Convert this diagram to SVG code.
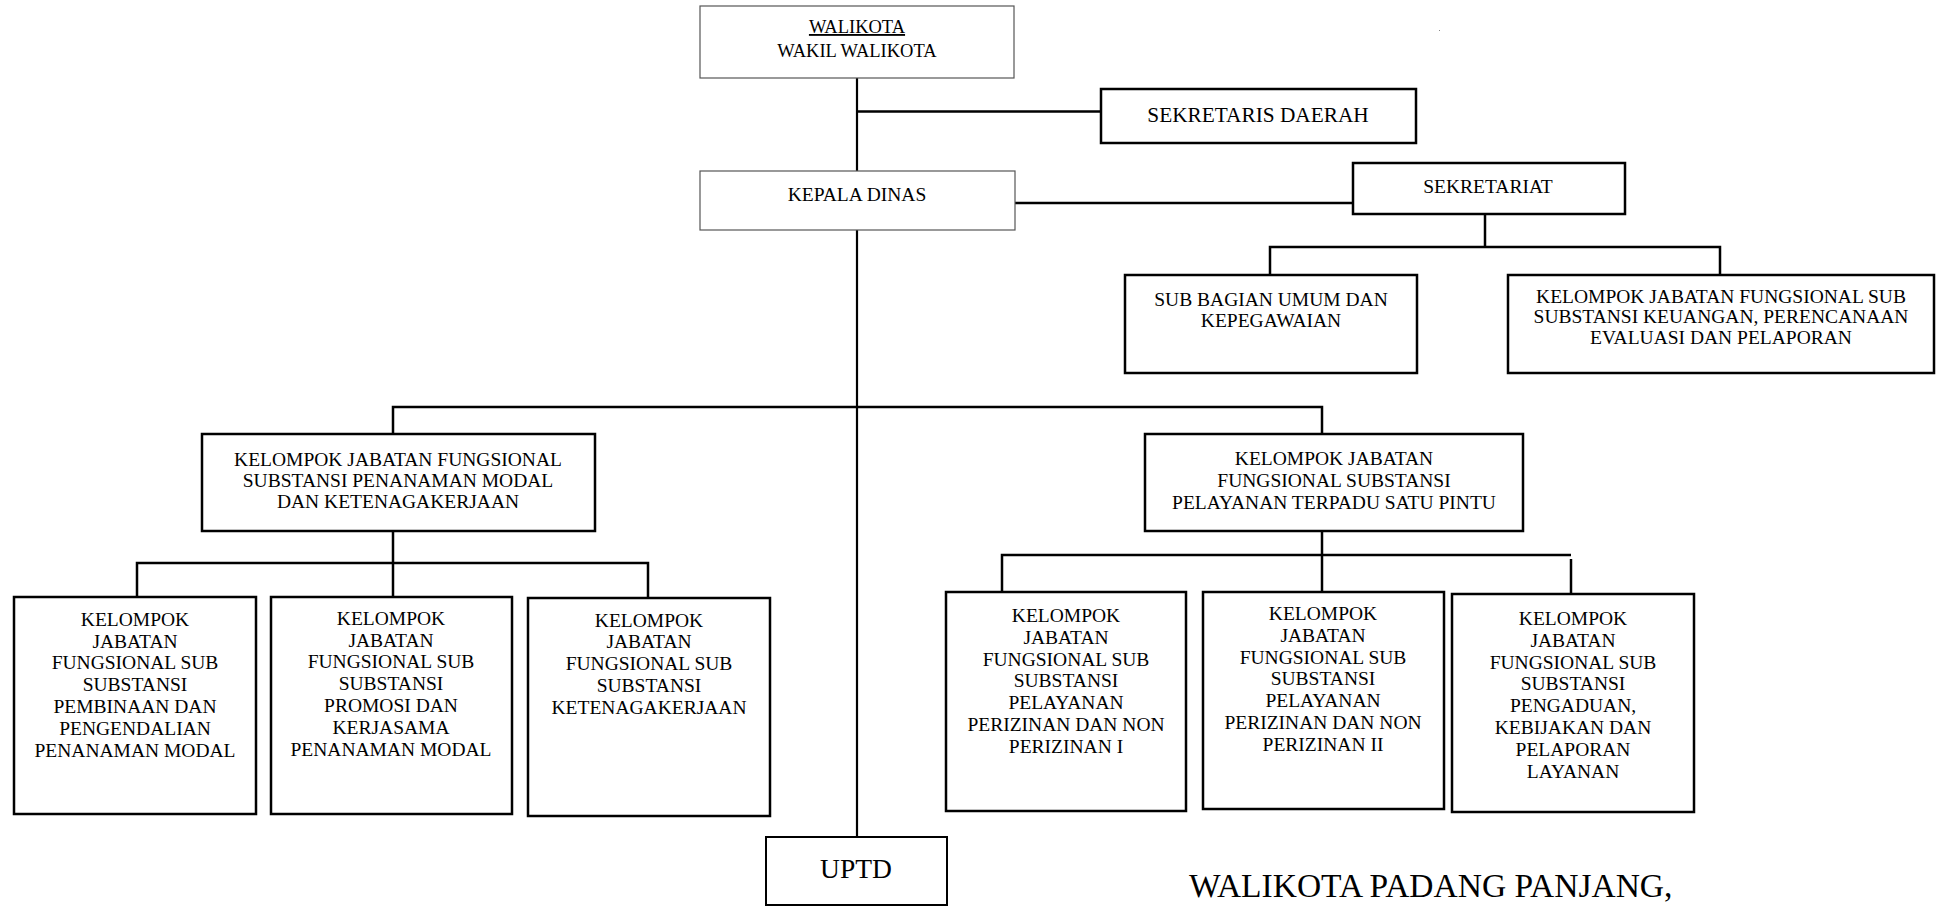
<svg xmlns="http://www.w3.org/2000/svg" width="1936" height="906" viewBox="0 0 1936 906">
<style>
  .thin { fill: #ffffff; stroke: #555555; stroke-width: 1.2; }
  .box { fill: #ffffff; stroke: #000000; stroke-width: 2.5; }
  .lbl { font-family: "Liberation Serif", "Times New Roman", serif; font-size: 19.5px; fill: #000000; text-anchor: middle; }
  .conn { fill: none; stroke: #000000; stroke-width: 2.5; }
</style>
<rect x="0" y="0" width="1936" height="906" fill="#ffffff"/>

<g id="connectors">
  <line class="conn" x1="857" y1="78" x2="857" y2="837" style="stroke-width:2.2"/>
  <line class="conn" x1="857" y1="111.5" x2="1101" y2="111.5"/>
  <line class="conn" x1="1015" y1="203" x2="1353" y2="203"/>
  <line class="conn" x1="1485" y1="214" x2="1485" y2="247"/>
  <polyline class="conn" points="1270,275 1270,247 1720,247 1720,275"/>
  <polyline class="conn" points="393,434 393,407 1322,407 1322,434"/>
  <line class="conn" x1="393" y1="531" x2="393" y2="597"/>
  <polyline class="conn" points="137,597 137,563 648,563 648,598"/>
  <line class="conn" x1="1322" y1="531" x2="1322" y2="592"/>
  <polyline class="conn" points="1002,592 1002,555 1571,555"/>
  <line class="conn" x1="1571" y1="559" x2="1571" y2="594"/>
</g>

<g id="walikota">
  <rect class="thin" x="700" y="6" width="314" height="72"/>
  <text class="lbl" x="857" y="33" style="font-size:18.5px"><tspan text-decoration="underline">WALIKOTA</tspan></text>
  <text class="lbl" x="857" y="57" style="font-size:18.5px">WAKIL WALIKOTA</text>
</g>

<g id="sekretaris-daerah">
  <rect class="box" x="1101" y="89" width="315" height="54"/>
  <text class="lbl" x="1258" y="122" style="font-size:21.3px">SEKRETARIS DAERAH</text>
</g>

<g id="kepala-dinas">
  <rect class="thin" x="700" y="171" width="315" height="59"/>
  <text class="lbl" x="857" y="201">KEPALA DINAS</text>
</g>

<g id="sekretariat">
  <rect class="box" x="1353" y="163" width="272" height="51"/>
  <text class="lbl" x="1488" y="193">SEKRETARIAT</text>
</g>

<g id="sub-bagian-umum">
  <rect class="box" x="1125" y="275" width="292" height="98"/>
  <text class="lbl" x="1271" y="306">SUB BAGIAN UMUM DAN</text>
  <text class="lbl" x="1271" y="327">KEPEGAWAIAN</text>
</g>

<g id="kjf-keuangan">
  <rect class="box" x="1508" y="275" width="426" height="98"/>
  <text class="lbl" x="1721" y="303">KELOMPOK JABATAN FUNGSIONAL SUB</text>
  <text class="lbl" x="1721" y="323">SUBSTANSI KEUANGAN, PERENCANAAN</text>
  <text class="lbl" x="1721" y="344">EVALUASI DAN PELAPORAN</text>
</g>

<g id="kjf-penanaman-modal">
  <rect class="box" x="202" y="434" width="393" height="97"/>
  <text class="lbl" x="398" y="466">KELOMPOK JABATAN FUNGSIONAL</text>
  <text class="lbl" x="398" y="487">SUBSTANSI PENANAMAN MODAL</text>
  <text class="lbl" x="398" y="508">DAN KETENAGAKERJAAN</text>
</g>

<g id="kjf-ptsp">
  <rect class="box" x="1145" y="434" width="378" height="97"/>
  <text class="lbl" x="1334" y="465">KELOMPOK JABATAN</text>
  <text class="lbl" x="1334" y="487">FUNGSIONAL SUBSTANSI</text>
  <text class="lbl" x="1334" y="509">PELAYANAN TERPADU SATU PINTU</text>
</g>

<g id="kjf-pembinaan">
  <rect class="box" x="14" y="597" width="242" height="217"/>
  <text class="lbl" x="135" y="626">KELOMPOK</text>
  <text class="lbl" x="135" y="648">JABATAN</text>
  <text class="lbl" x="135" y="669">FUNGSIONAL SUB</text>
  <text class="lbl" x="135" y="691">SUBSTANSI</text>
  <text class="lbl" x="135" y="713">PEMBINAAN DAN</text>
  <text class="lbl" x="135" y="735">PENGENDALIAN</text>
  <text class="lbl" x="135" y="757">PENANAMAN MODAL</text>
</g>

<g id="kjf-promosi">
  <rect class="box" x="271" y="597" width="241" height="217"/>
  <text class="lbl" x="391" y="625">KELOMPOK</text>
  <text class="lbl" x="391" y="647">JABATAN</text>
  <text class="lbl" x="391" y="668">FUNGSIONAL SUB</text>
  <text class="lbl" x="391" y="690">SUBSTANSI</text>
  <text class="lbl" x="391" y="712">PROMOSI DAN</text>
  <text class="lbl" x="391" y="734">KERJASAMA</text>
  <text class="lbl" x="391" y="756">PENANAMAN MODAL</text>
</g>

<g id="kjf-ketenagakerjaan">
  <rect class="box" x="528" y="598" width="242" height="218"/>
  <text class="lbl" x="649" y="627">KELOMPOK</text>
  <text class="lbl" x="649" y="648">JABATAN</text>
  <text class="lbl" x="649" y="670">FUNGSIONAL SUB</text>
  <text class="lbl" x="649" y="692">SUBSTANSI</text>
  <text class="lbl" x="649" y="714">KETENAGAKERJAAN</text>
</g>

<g id="kjf-perizinan-1">
  <rect class="box" x="946" y="592" width="240" height="219"/>
  <text class="lbl" x="1066" y="622">KELOMPOK</text>
  <text class="lbl" x="1066" y="644">JABATAN</text>
  <text class="lbl" x="1066" y="666">FUNGSIONAL SUB</text>
  <text class="lbl" x="1066" y="687">SUBSTANSI</text>
  <text class="lbl" x="1066" y="709">PELAYANAN</text>
  <text class="lbl" x="1066" y="731">PERIZINAN DAN NON</text>
  <text class="lbl" x="1066" y="753">PERIZINAN I</text>
</g>

<g id="kjf-perizinan-2">
  <rect class="box" x="1203" y="592" width="241" height="217"/>
  <text class="lbl" x="1323" y="620">KELOMPOK</text>
  <text class="lbl" x="1323" y="642">JABATAN</text>
  <text class="lbl" x="1323" y="664">FUNGSIONAL SUB</text>
  <text class="lbl" x="1323" y="685">SUBSTANSI</text>
  <text class="lbl" x="1323" y="707">PELAYANAN</text>
  <text class="lbl" x="1323" y="729">PERIZINAN DAN NON</text>
  <text class="lbl" x="1323" y="751">PERIZINAN II</text>
</g>

<g id="kjf-pengaduan">
  <rect class="box" x="1452" y="594" width="242" height="218"/>
  <text class="lbl" x="1573" y="625">KELOMPOK</text>
  <text class="lbl" x="1573" y="647">JABATAN</text>
  <text class="lbl" x="1573" y="669">FUNGSIONAL SUB</text>
  <text class="lbl" x="1573" y="690">SUBSTANSI</text>
  <text class="lbl" x="1573" y="712">PENGADUAN,</text>
  <text class="lbl" x="1573" y="734">KEBIJAKAN DAN</text>
  <text class="lbl" x="1573" y="756">PELAPORAN</text>
  <text class="lbl" x="1573" y="778">LAYANAN</text>
</g>

<g id="uptd">
  <rect class="box" x="766" y="837" width="181" height="68" style="stroke-width:2"/>
  <text class="lbl" x="856" y="878" style="font-size:27.5px">UPTD</text>
</g>

<g id="signature">
  <text x="1189" y="897" style="font-family:'Liberation Serif','Times New Roman',serif;font-size:33.5px;fill:#000">WALIKOTA PADANG PANJANG,</text>
</g>
<rect x="1439" y="30" width="1" height="1" fill="#888888"/>
</svg>
